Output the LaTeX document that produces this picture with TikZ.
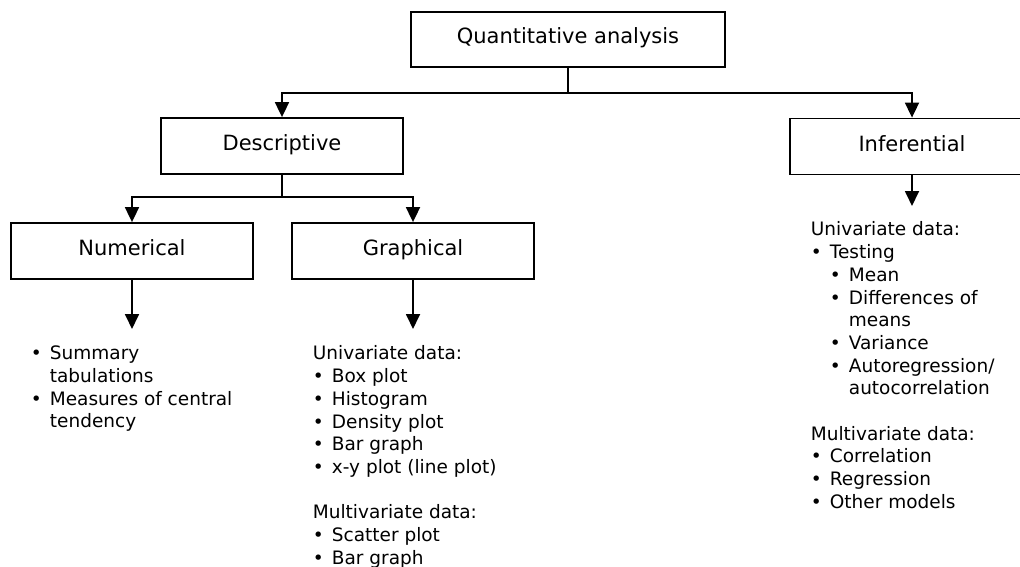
\documentclass[tikz,border=0pt]{standalone}
\usepackage{fontspec}
\setmainfont{DejaVu Sans}
\usetikzlibrary{arrows.meta,positioning}

\newcommand{\bul}{\makebox[19pt][l]{\textbullet}}
\newcommand{\bulpad}{\hspace*{19pt}}

\begin{document}
\begin{tikzpicture}[x=1pt, y=-1pt, line width=1.8pt,
		>={Triangle[width=14pt,length=15pt]},
		box/.style={draw, rectangle, inner sep=0pt, minimum width=242pt, minimum height=56pt, text height=15pt, text depth=6pt, font=\fontsize{21}{25}\selectfont},
		list/.style={anchor=north west, inner sep=0pt, align=left, font=\fontsize{18.5}{22.7}\selectfont}]
		\useasboundingbox (0,0) rectangle (1020,567);
		\clip (0,0) rectangle (1020,567);

		\node (quant)[box, minimum width=314pt, minimum height=55pt] at (568,39.5) {Quantitative analysis};

		\node (desc)[box] at (282,146) {Descriptive};
		\node (infer)[box, minimum width=244pt] at (912,146.5) {Inferential};

		\node (numer)[box] at (132,251) {Numerical};
		\node (graph)[box, right of = numer, node distance=281pt] {Graphical};

		\coordinate (qsplit) at (568,93);
		\coordinate (dsplit) at (282,197);
		\coordinate (numend) at (132,329);
		\coordinate (graphend) at (413,329);
		\coordinate (inferend) at (912,206);

		% lists under the boxes
		\node (numlist)[list] at (30,345) {\bul Summary\\ \bulpad tabulations\\ \bul Measures of central\\ \bulpad tendency};

		\node (graphlist)[list] at (312,345) {Univariate data:\\ \bul Box plot\\ \bul Histogram\\ \bul Density plot\\ \bul Bar graph\\ \bul x-y plot (line plot)\\[22.7pt]
			Multivariate data:\\ \bul Scatter plot\\ \bul Bar graph};

		\node (inflist)[list] at (810,221) {Univariate data:\\ \bul Testing\\ \bulpad\bul Mean\\ \bulpad\bul Differences of\\ \bulpad\bulpad means\\ \bulpad\bul Variance\\
			\bulpad\bul Autoregression/\\ \bulpad\bulpad autocorrelation\\[22.7pt]
			Multivariate data:\\ \bul Correlation\\ \bul Regression\\ \bul Other models};

		\draw (quant.south) to (qsplit);
		\draw [->](qsplit) -| (desc.north);
		\draw [->](qsplit) -| (infer.north);

		\draw (desc.south) to (dsplit);
		\draw [->](dsplit) -| (numer.north);
		\draw [->](dsplit) -| (graph.north);

		\draw [->](numer.south) to (numend);
		\draw [->](graph.south) to (graphend);
		\draw [->](infer.south) to (inferend);
	\end{tikzpicture}
\end{document}
